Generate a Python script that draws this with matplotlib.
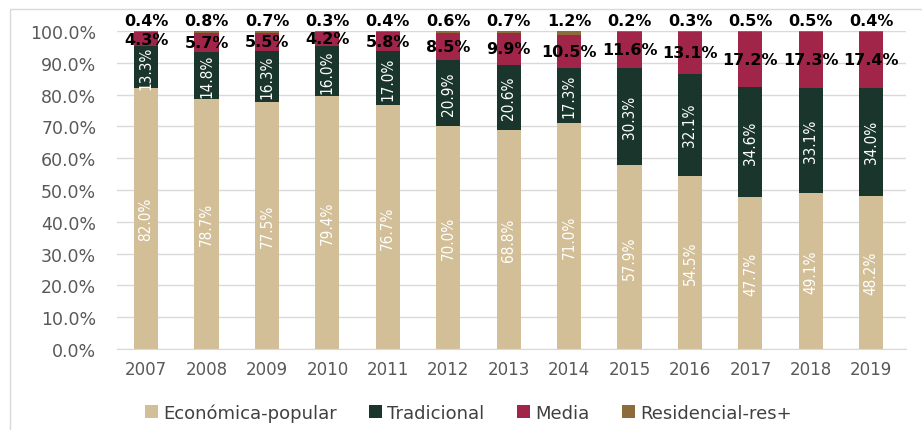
import numpy as np
import matplotlib.pyplot as plt
from matplotlib.patches import Rectangle

years = ['2007', '2008', '2009', '2010', '2011', '2012', '2013',
         '2014', '2015', '2016', '2017', '2018', '2019']
economica = [82.0, 78.7, 77.5, 79.4, 76.7, 70.0, 68.8, 71.0, 57.9, 54.5, 47.7, 49.1, 48.2]
tradicional = [13.3, 14.8, 16.3, 16.0, 17.0, 20.9, 20.6, 17.3, 30.3, 32.1, 34.6, 33.1, 34.0]
media = [4.3, 5.7, 5.5, 4.2, 5.8, 8.5, 9.9, 10.5, 11.6, 13.1, 17.2, 17.3, 17.4]
residencial = [0.4, 0.8, 0.7, 0.3, 0.4, 0.6, 0.7, 1.2, 0.2, 0.3, 0.5, 0.5, 0.4]

names = ['Económica-popular', 'Tradicional', 'Media', 'Residencial-res+']
colors = ['#D3BF97', '#1A362C', '#A02549', '#8C6C3A']

fig = plt.figure(figsize=(9.22, 4.31), dpi=100)
ax = fig.add_axes([0.127, 0.188, 0.856, 0.738])
fig.patches.append(Rectangle((10 / 922, -0.1), 1.2, (431 - 10) / 431 + 0.1,
                             transform=fig.transFigure, fill=False,
                             edgecolor='#d9d9d9', lw=1))

x = np.arange(len(years))
series = [economica, tradicional, media, residencial]
bottom = np.zeros(len(years))
for vals, name, c in zip(series, names, colors):
    vals = np.array(vals)
    ax.bar(x, vals, 0.4, bottom=bottom, color=c, label=name, zorder=2)
    bottom += vals

for i in range(len(years)):
    e, t, m, r = economica[i], tradicional[i], media[i], residencial[i]
    ax.text(i, e / 2, f'{e:.1f}%', rotation=90, ha='center', va='center',
            color='white', fontsize=11, family='DejaVu Sans', stretch='condensed', zorder=3)
    ax.text(i, e + t / 2, f'{t:.1f}%', rotation=90, ha='center', va='center',
            color='white', fontsize=11, family='DejaVu Sans', stretch='condensed', zorder=3)
    ax.text(i, e + t + m / 2, f'{m:.1f}%', ha='center', va='center',
            color='black', fontsize=11.5, fontweight='bold', zorder=3)
    ax.text(i, 101.0, f'{r:.1f}%', ha='center', va='bottom',
            color='black', fontsize=11.5, fontweight='bold', zorder=3, clip_on=False)

ax.set_xlim(-0.48, 12.58)
ax.set_ylim(0, 100)
ax.set_yticks(np.arange(0, 101, 10))
ax.set_yticklabels([f'{v:.1f}%' for v in np.arange(0, 101, 10)])
ax.set_xticks(x)
ax.set_xticklabels(years)
ax.tick_params(axis='y', length=0, colors='#595959', labelsize=12.5, pad=15)
ax.tick_params(axis='x', length=0, colors='#595959', labelsize=12, pad=8)
ax.grid(True, axis='y', color='#d9d9d9', lw=1, zorder=0)
for s in ['top', 'right', 'left']:
    ax.spines[s].set_visible(False)
ax.spines['bottom'].set_color('#d9d9d9')

ax.legend(loc='upper center', bbox_to_anchor=(0.445, -0.12), ncol=4, frameon=False,
          fontsize=13, handlelength=0.7, handleheight=0.7, handletextpad=0.3,
          columnspacing=1.8, labelcolor='#404040')

fig.savefig('out.png', dpi=100)
